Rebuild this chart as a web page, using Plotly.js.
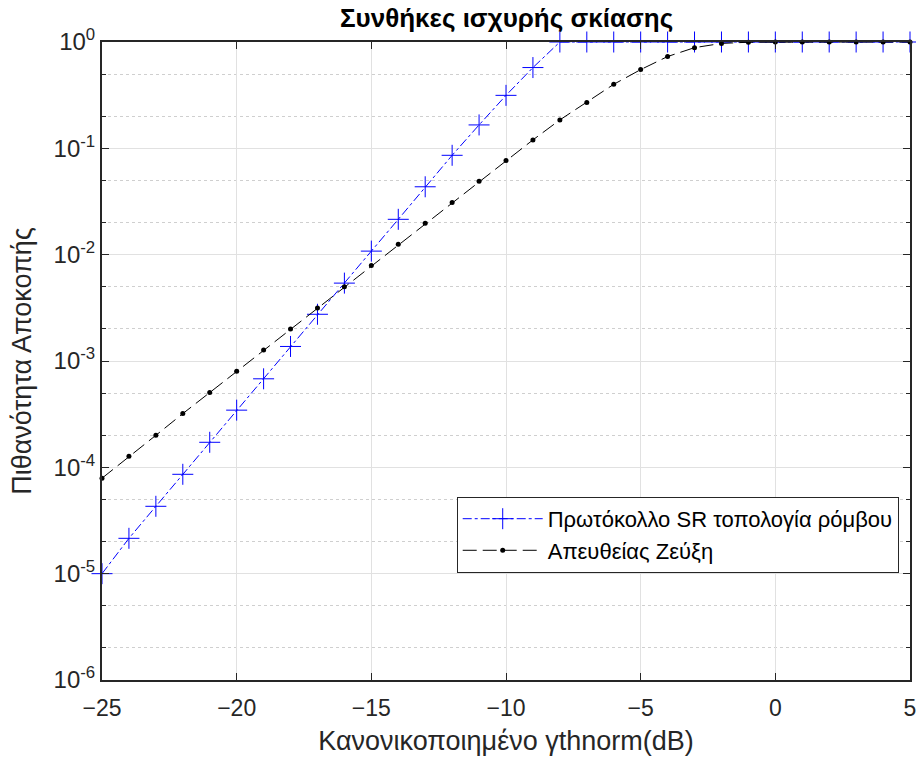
<!DOCTYPE html>
<html>
<head>
<meta charset="utf-8">
<script src="https://cdn.plot.ly/plotly-3.0.1.min.js"></script>
<style>body{margin:0;background:#fff}#chart{width:916px;height:760px}</style>
</head>
<body>
<div id="chart"></div>
<script>
const snrDb = [-25,-24,-23,-22,-21,-20,-19,-18,-17,-16,-15,-14,-13,-12,-11,-10,-9,-8,-7,-6,-5,-4,-3,-2,-1,0,1,2,3,4,5];
const srRhombus = [1.0e-5,2.15e-5,4.3e-5,8.6e-5,1.72e-4,3.45e-4,6.8e-4,1.37e-3,2.75e-3,5.4e-3,1.08e-2,2.15e-2,4.35e-2,8.6e-2,0.166,0.315,0.575,1,1,1,1,1,1,1,1,1,1,1,1,1,1];
const directLink = [7.9e-5,1.27e-4,2.0e-4,3.2e-4,5.05e-4,8.0e-4,1.27e-3,2.0e-3,3.15e-3,5.0e-3,7.9e-3,1.25e-2,1.97e-2,3.1e-2,4.9e-2,7.7e-2,0.12,0.185,0.27,0.40,0.55,0.73,0.885,0.97,0.995,1,1,1,1,1,1];
const yTickVals = [1e-6,1e-5,1e-4,1e-3,1e-2,1e-1,1];
const yTickText = ['10<sup>-6</sup>','10<sup>-5</sup>','10<sup>-4</sup>','10<sup>-3</sup>','10<sup>-2</sup>','10<sup>-1</sup>','10<sup>0</sup>'];
const xTickVals = [-25,-20,-15,-10,-5,0,5];
const seriesNames = ['Πρωτόκολλο SR τοπολογία ρόμβου','Απευθείας Ζεύξη'];

const font = 'Liberation Sans, Arial, sans-serif';
const traces = [
  {x: snrDb, y: srRhombus, name: seriesNames[0], mode: 'lines+markers',
   line: {color: '#0000ff', width: 1, dash: 'dashdot'},
   marker: {symbol: 'cross-thin-open', size: 15, color: '#0000ff', line: {color: '#0000ff', width: 1}},
   cliponaxis: false},
  {x: snrDb, y: directLink, name: seriesNames[1], mode: 'lines+markers',
   line: {color: '#000000', width: 1, dash: '14px,6px'},
   marker: {symbol: 'circle', size: 5, color: '#000000'},
   cliponaxis: false}
];
const layout = {
  width: 916, height: 760,
  margin: {l: 102, r: 6, t: 42, b: 80},
  paper_bgcolor: '#fff', plot_bgcolor: '#fff',
  font: {family: font, color: '#262626', size: 23},
  title: {text: '<b>Συνθήκες ισχυρής σκίασης</b>', x: 0.553, xanchor: 'center', y: 0.976, yanchor: 'middle',
          font: {family: font, size: 26, color: '#000'}},
  xaxis: {range: [-25, 5], tickvals: xTickVals, ticks: 'inside', ticklen: 7, tickcolor: '#262626',
          showline: true, linecolor: '#262626', linewidth: 2, mirror: 'allticks', ticklabeloverflow: 'allow',
          ticklabelstandoff: 6,
          showgrid: true, gridcolor: '#e1e1e1', gridwidth: 1, zeroline: false,
          tickfont: {size: 23, color: '#262626'},
          title: {text: 'Κανονικοποιημένο γthnorm(dB)', font: {size: 27, color: '#262626'}, standoff: 12}},
  yaxis: {type: 'log', range: [-6, 0], tickvals: yTickVals, ticktext: yTickText, ticks: 'inside', ticklen: 7,
          tickcolor: '#262626', showline: true, linecolor: '#262626', linewidth: 2, mirror: 'allticks', ticklabeloverflow: 'allow',
          showgrid: true, gridcolor: '#e1e1e1', gridwidth: 1, zeroline: false,
          tickfont: {size: 24, color: '#262626'},
          minor: {ticks: 'inside', ticklen: 4, tickcolor: '#262626', showgrid: true, gridcolor: '#cfcfcf', griddash: 'dot', gridwidth: 1},
          title: {text: 'Πιθανότητα Αποκοπής', font: {size: 27, color: '#262626'}, standoff: 14}},
  legend: {x: 0.439, y: 0.287, xanchor: 'left', yanchor: 'top', bgcolor: '#fff', bordercolor: '#262626', borderwidth: 1,
           font: {size: 22, color: '#000'}, tracegroupgap: 0, itemwidth: 80},
  showlegend: true
};
Plotly.newPlot('chart', traces, layout, {displayModeBar: false});
</script>
</body>
</html>
